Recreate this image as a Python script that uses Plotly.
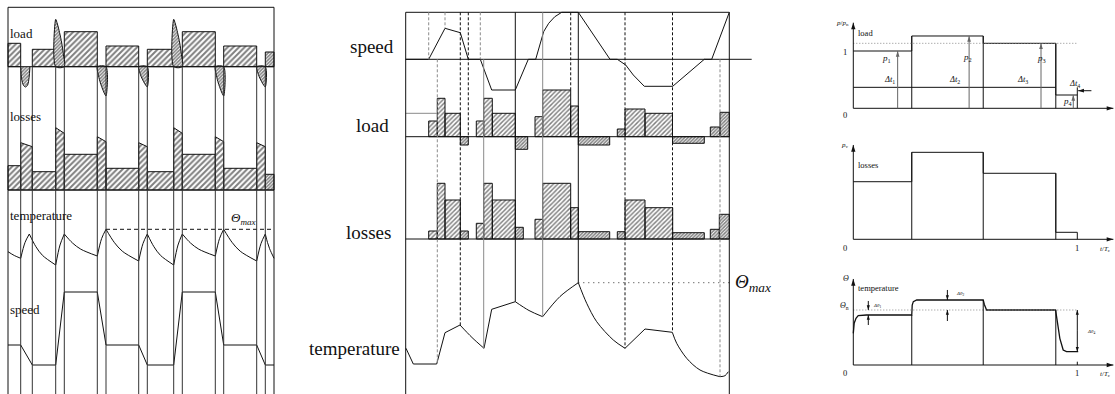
import plotly.graph_objects as go

W, H = 1115, 394
SERIF = "Liberation Serif"
INK = "#111111"
GRAY = "#8a8a8a"

# ====================== LEFT PANEL : periodic duty (arbitrary units) ======================
L_events = [0, 12.7, 24.3, 47.7, 56.3, 89.3, 98, 130.7, 139.3, 165.7, 174.3, 207.3, 215.7, 248.7, 257.3, 266]
L_load_kind = ['b', 'c', 'b', 'p', 'b', 'n', 'b', 'n', 'b', 'p', 'b', 'n', 'b', 'n', 'b']
L_load_val = [23.4, -20.3, 17.4, 47.4, 35.0, -29.3, 20.7, -20.3, 17.4, 47.4, 35.0, -29.3, 20.7, -20.3, 14.7]
L_loss_start = [24.3, 47.3, 18.3, 62.3, 35.7, 53.3, 21.7, 47.3, 18.3, 62.3, 35.7, 53.3, 21.7, 47.3, 15.7]
L_loss_end = [24.3, 43.3, 18.3, 56.7, 35.7, 48.3, 21.7, 43.3, 18.3, 56.7, 35.7, 48.3, 21.7, 43.3, 15.7]
L_speed = [35, 35, 15, 15, 88, 88, 35, 35, 15, 15, 88, 88, 35, 35, 15, 15]
L_temp_t = [0, 6.3, 12.7, None, 12.7, 17, 21.3, None, 21.3, 27.9, 34.5, 47.7, None, 47.7, 52, 56.3, None,
            56.3, 64.5, 72.8, 89.3, None, 89.3, 93.6, 98, None, 98, 106.2, 114.3, 130.7, None,
            130.7, 135, 139.3, None, 139.3, 145.9, 152.5, 165.7, None, 165.7, 170, 174.3, None,
            174.3, 182.5, 190.8, 207.3, None, 207.3, 211.5, 215.7, None, 215.7, 224, 232.2, 248.7, None,
            248.7, 253, 257.3, None, 257.3, 259.5, 261.6, 266]
L_temp_v = [28.3, 24.5, 21.7, None, 21.7, 37.5, 46, None, 46, 33.3, 24.6, 15, None, 15, 35, 46, None,
            46, 37, 30.8, 24, None, 24, 41.4, 50.7, None, 50.7, 37.7, 28.8, 19, None,
            19, 36.5, 46, None, 46, 33.3, 24.6, 15, None, 15, 35, 46, None,
            46, 37, 30.8, 24, None, 24, 41.4, 50.7, None, 50.7, 37.7, 28.8, 19, None,
            19, 36.5, 46, None, 46, 37.5, 31.3, 21.7]
L_theta_max = 50.7
L_theta_max_from = 98
# lobe outline profiles (fraction of interval / fraction of peak)
LOBE_U = [0, 0.2, 0.45, 0.7, 0.9, 1.0]
LOBE_F = [1, 0.9, 0.72, 0.5, 0.25, 0]
LOBE_CS = [0, 0.08, 0.25, 0.42, 0.6, 0.72, 0.8]
LOBE_CF = [0, 0.6, 0.93, 1, 0.9, 0.55, 0]

# ====================== MIDDLE PANEL : reversing drive ======================
M_speed_t = [0, 23, 39.3, 54.6, 62.6, 74.6, 86, 109.6, 122.6, 130, 138, 143, 149, 156, 165, 172.6,
             204.3, 211.6, 220, 227.6, 238.6, 267, 298.6, 306, 323.6]
M_speed_v = [0, 0, 31, 26.6, 0, 0, -30.7, -30.7, 0, 0, 27.7, 36, 42.5, 47, 47, 47,
             0, 0, -5.7, -15.7, -27, -27, 0, 0, 47]
M_load_t0 = [23, 31.6, 39.3, 54.6, 70.6, 78, 86.6, 109.6, 129.3, 137, 165, 172.6, 211.6, 219.3, 239.3, 266.8, 304.6, 314.3]
M_load_t1 = [31.6, 39.3, 54.6, 62.6, 78, 86.6, 109.6, 122, 137, 165, 172.6, 204, 219.3, 239.3, 266.8, 298.6, 314.3, 323.6]
M_load_v = [15.7, 38.4, 23.4, -8.3, 15.7, 38.4, 23.4, -12.6, 20, 46.7, 30.7, -8.3, 7.7, 27.7, 23.4, -6.6, 9.7, 24.4]
M_load_pre_t = [0, 31.6]
M_load_pre_v = [23.4, 23.4]
M_loss_t0 = [23, 31.6, 39.3, 54.6, 70.6, 78, 86.6, 109.6, 129.3, 137, 165, 172.6, 211.6, 219.3, 239.3, 267, 304.6, 313.6]
M_loss_t1 = [31.6, 39.3, 54.6, 62.6, 78, 86.6, 109.6, 117.6, 137, 165, 172.6, 204, 219.3, 239.3, 267, 298.6, 313.6, 323.6]
M_loss_v = [8, 55.7, 39, 8, 15.7, 55.7, 39, 11.7, 19.7, 55.7, 31.3, 7.3, 7.3, 39, 31.3, 6.3, 9.7, 24.7]
M_dense = [False, False, False, True, False, False, False, True, False, False, False, True, True, False, False, True, True, True]
M_temp_t = [0.3, 7.6, None, 7.6, 31, None, 31, 39.3, None, 39.3, 54.3, None, 54.3, 66.3, 78.3, None,
            78.3, 86, None, 86, 109.6, None, 109.6, 123.3, 137, None, 137, 154.3, 172.6, None,
            172.6, 181, 191, 207.6, 219.3, None, 219.3, 239.3, None, 239.3, 266.6, None,
            266.6, 271, 281, 294.3, 314.3, None, 314.3, 319.3, 322.6]
M_temp_v = [45.7, 30, None, 30, 30, None, 30, 61.3, None, 61.3, 69, None, 69, 56.5, 45.7, None,
            45.7, 84.7, None, 84.7, 92.3, None, 92.3, 83.5, 77.3, None, 77.3, 97.5, 111.3, None,
            111.3, 90.7, 72.3, 54, 45.7, None, 45.7, 65, None, 65, 61.7, None,
            61.7, 50.7, 35.7, 24, 17.3, None, 17.3, 18.3, 22.3]
M_theta_max = 111.3
M_theta_from = 172.6
M_end = 323.6
# construction lines: time, top/bottom (pixel rows of panel guide axis), style
M_vl_t = [23, 31.6, 39.3, 54.6, 62.6, 74.6, 78, 109.6, 137, 165, 172.6, 219.3, 266.8, 314.3]
M_vl_top = [12.3, 59.3, 12.3, 12.3, 12.3, 12.3, 59.3, 12.3, 12.3, 12.3, 12.3, 12.3, 12.3, 59.3]
M_vl_bot = [59.3, 364, 28.3, 325, 136.7, 59.3, 348.3, 301.7, 316.7, 90, 282.7, 348.3, 331.7, 376.7]
M_vl_sty = ['gd', 'gd', 'gd', 'kd', 'kd', 'gd', 'gs', 'ks', 'gs', 'kd', 'ks', 'kd', 'kd', 'gd']

# ====================== RIGHT PANEL : equivalent cycle (t/Tc) ======================
R_edges = [0, 0.261, 0.580, 0.904, 1.0]
R_load = [1.0, 1.262, 1.134, 0.232]
R_loss = [1.005, 1.518, 1.152, 0.122]
R_temp_t = [0, 0.004, 0.012, 0.022, 0.059, 0.261, 0.263, 0.268, 0.283, 0.580, 0.585, 0.595,
            0.903, 0.912, 0.922, 0.937, 0.952, 1.004]
R_temp_v = [0.576, 0.76, 0.85, 0.897, 0.909, 0.909, 1.09, 1.152, 1.182, 1.182, 1.1, 1.0,
            1.0, 0.75, 0.485, 0.273, 0.242, 0.242]
R_theta_n = 1.0
R_dt_level = 0.366
R_p_arrow_t = [0.198, 0.517, 0.838, 0.982]
R_p_labels = ["<i>p</i><sub>1</sub>", "<i>p</i><sub>2</sub>", "<i>p</i><sub>3</sub>", "<i>p</i><sub>4</sub>"]
R_dt_labels = ["<i>Δt</i><sub>1</sub>", "<i>Δt</i><sub>2</sub>", "<i>Δt</i><sub>3</sub>", "<i>Δt</i><sub>4</sub>"]

# ---------------------------------------------------------------------------------------
def dom_x(left, right):
    return [left / W, right / W]


def dom_y(top, bot):
    return [1 - bot / H, 1 - top / H]


def xr(px0, k, left, right):
    return [(left - px0) / k, (right - px0) / k]


def yr(py0, k, top, bot):
    return [(py0 - bot) / k, (py0 - top) / k]


fig = go.Figure()


def pattern(size, sol):
    return dict(shape='/', fgcolor='#000000', bgcolor='white', size=size, solidity=sol)


def add_poly(xs, ys, xa, ya, size, sol, spline=False):
    fig.add_trace(go.Scatter(x=xs, y=ys, xaxis=xa, yaxis=ya, mode='lines', fill='toself',
                             fillcolor='white', fillpattern=pattern(size, sol),
                             line=dict(color=INK, width=1, shape='spline' if spline else 'linear', smoothing=0.8),
                             hoverinfo='skip', showlegend=False))


def add_line(xs, ys, xa, ya, color=INK, width=1, dash='solid', spline=False):
    fig.add_trace(go.Scatter(x=xs, y=ys, xaxis=xa, yaxis=ya, mode='lines',
                             line=dict(color=color, width=width, dash=dash,
                                       shape='spline' if spline else 'linear', smoothing=0.9),
                             hoverinfo='skip', showlegend=False))


def arrow(x0, y0, x1, y1, xa, ya, color=INK, size=6):
    fig.add_trace(go.Scatter(x=[x0, x1], y=[y0, y1], xaxis=xa, yaxis=ya, mode='lines',
                             line=dict(color=color, width=1), hoverinfo='skip', showlegend=False))
    fig.add_trace(go.Scatter(x=[x1], y=[y1], xaxis=xa, yaxis=ya, mode='markers',
                             marker=dict(symbol='arrow', size=size, color=color,
                                         angle=(90 if x1 > x0 else -90) if y1 == y0 else (0 if y1 > y0 else 180),
                                         line=dict(width=0)),
                             cliponaxis=False, hoverinfo='skip', showlegend=False))


def blocks(t0s, t1s, v0s, v1s):
    xs, ys = [], []
    for a, b, c, d in zip(t0s, t1s, v0s, v1s):
        xs += [a, a, b, b, a, None]
        ys += [0, c, d, 0, 0, None]
    return xs, ys


HATCH = (4, 0.5)
HATCH_M = (3.2, 0.45)
DENSE = (2.4, 0.62)

# ---------------- left panel traces ----------------
Lt0, Lt1 = L_events[:-1], L_events[1:]
nb = len(L_load_kind)
idx_b = [i for i in range(nb) if L_load_kind[i] == 'b' and i != nb - 1]
xs, ys = blocks([Lt0[i] for i in idx_b], [Lt1[i] for i in idx_b],
                [L_load_val[i] for i in idx_b], [L_load_val[i] for i in idx_b])
add_poly(xs, ys, 'x', 'y2', *HATCH)
xs, ys = blocks([Lt0[-1]], [Lt1[-1]], [L_load_val[-1]], [L_load_val[-1]])
add_poly(xs, ys, 'x', 'y2', *DENSE)
# lobes
for i in range(nb):
    k = L_load_kind[i]
    a, b, h = Lt0[i], Lt1[i], L_load_val[i]
    w = b - a
    if k == 'p':
        lx = [a] + [a + u * w for u in LOBE_U] + [a]
        ly = [0] + [f * h for f in LOBE_F] + [0]
    elif k == 'n':
        lx = [b] + [b - u * w for u in LOBE_U] + [b]
        ly = [0] + [f * h for f in LOBE_F] + [0]
    elif k == 'c':
        lx = [a + s * w for s in LOBE_CS]
        ly = [f * h for f in LOBE_CF]
    else:
        continue
    add_poly(lx, ly, 'x', 'y2', *DENSE, spline=True)

# losses
xs, ys = blocks(Lt0[:-1], Lt1[:-1], L_loss_start[:-1], L_loss_end[:-1])
add_poly(xs, ys, 'x', 'y3', *HATCH)
xs, ys = blocks([Lt0[-1]], [Lt1[-1]], [L_loss_start[-1]], [L_loss_end[-1]])
add_poly(xs, ys, 'x', 'y3', *DENSE)
# temperature, speed
add_line(L_temp_t, L_temp_v, 'x', 'y4', spline=True)
add_line([L_theta_max_from, L_events[-1]], [L_theta_max, L_theta_max], 'x', 'y4', dash='4px,3px')
add_line(L_events, L_speed, 'x', 'y5')

# ---------------- middle panel traces ----------------
def dense_split(t0s, t1s, vs, flags, want):
    sel = [i for i in range(len(vs)) if flags[i] == want]
    return blocks([t0s[i] for i in sel], [t1s[i] for i in sel], [vs[i] for i in sel], [vs[i] for i in sel])


for want, (sz, so) in [(False, HATCH_M), (True, DENSE)]:
    xs, ys = dense_split(M_load_t0, M_load_t1, M_load_v, M_dense, want)
    add_poly(xs, ys, 'x2', 'y7', sz, so)
    xs, ys = dense_split(M_loss_t0, M_loss_t1, M_loss_v, M_dense, want)
    add_poly(xs, ys, 'x2', 'y8', sz, so)
add_line(M_load_pre_t, M_load_pre_v, 'x2', 'y7', color=GRAY)
add_line(M_speed_t, M_speed_v, 'x2', 'y10')
add_line(M_temp_t, M_temp_v, 'x2', 'y9', spline=True)
add_line([M_theta_from, M_end], [M_theta_max, M_theta_max], 'x2', 'y9', dash='1px,4px', color='#333')

# ---------------- right panel traces ----------------
e = R_edges
# load
sx, sy = [], []
for i in range(4):
    sx += [e[i], e[i + 1]]
    sy += [R_load[i], R_load[i]]
add_line(sx, sy, 'x3', 'y11')
vx, vy = [], []
for i in range(1, 4):
    vx += [e[i], e[i], None]
    vy += [0, max(R_load[i - 1], R_load[i]), None]
vx += [e[4], e[4]]
vy += [0, R_dt_level]
add_line(vx, vy, 'x3', 'y11')
add_line([0, e[4]], [R_load[2], R_load[2]], 'x3', 'y11', color=GRAY, dash='1px,2px')
add_line([0, e[3]], [R_dt_level, R_dt_level], 'x3', 'y11')
# losses
sx, sy = [], []
for i in range(4):
    sx += [e[i], e[i + 1]]
    sy += [R_loss[i], R_loss[i]]
add_line(sx + [e[4]], sy + [0], 'x4', 'y12')
vx, vy = [], []
for i in range(1, 4):
    vx += [e[i], e[i], None]
    vy += [0, max(R_loss[i - 1], R_loss[i]), None]
add_line(vx, vy, 'x4', 'y12')
# temperature
add_line(R_temp_t, R_temp_v, 'x5', 'y13', width=1.3)
add_line([0, 1.004], [R_theta_n, R_theta_n], 'x5', 'y13', color=GRAY, dash='1px,2px')
vx, vy = [], []
for i, lv in zip([1, 2, 3], [0.909, 1.182, 1.0]):
    vx += [e[i], e[i], None]
    vy += [0, lv, None]
vx += [1.0, 1.0]
vy += [0, 0.06]
add_line(vx, vy, 'x5', 'y13')

# right panel axes with arrowheads
for xa, ya, ytop in [('x3', 'y11', 1.494), ('x4', 'y12', 1.646), ('x5', 'y13', 1.564)]:
    arrow(0, 0, 1.161, 0, xa, ya, size=7)
    arrow(0, 0, 0, ytop, xa, ya, size=7)
for t, lv in zip(R_p_arrow_t, R_load):
    arrow(t, 0, t, lv, 'x3', 'y11', color='#666', size=6)
arrow(1.063, 0.307, 1.004, 0.307, 'x3', 'y11', size=6)
arrow(0.067, 1.164, 0.067, 1.0, 'x5', 'y13', size=5)
arrow(0.067, 0.727, 0.067, 0.909, 'x5', 'y13', size=5)
arrow(0.42, 1.364, 0.42, 1.182, 'x5', 'y13', size=5)
arrow(0.42, 0.8, 0.42, 1.0, 'x5', 'y13', size=5)
arrow(1.0, 0.62, 1.0, 1.0, 'x5', 'y13', size=5)
arrow(1.0, 0.62, 1.0, 0.242, 'x5', 'y13', size=5)

# ---------------- layout ----------------
L_dom = dom_x(5, 277)
M_dom = dom_x(402.5, 754)
R_xdom = dom_x(838, 1115)
layout = dict(
    width=W, height=H, margin=dict(l=0, r=0, t=0, b=0),
    paper_bgcolor='white', plot_bgcolor='white', showlegend=False,
    xaxis=dict(domain=L_dom, range=xr(8, 1, 5, 277), visible=False, anchor='y'),
    yaxis=dict(domain=dom_y(4, 394), range=[394, 4], visible=False, anchor='x'),
    xaxis2=dict(domain=M_dom, range=xr(405.7, 1, 402.5, 754), visible=False, anchor='y6'),
    yaxis6=dict(domain=dom_y(9, 394), range=[394, 9], visible=False, anchor='x2'),
    xaxis3=dict(domain=R_xdom, range=xr(853.3, 224, 838, 1115), visible=False, anchor='y11'),
    yaxis11=dict(domain=dom_y(12, 122), range=yr(108.3, 57.3, 12, 122), visible=False, anchor='x3'),
    xaxis4=dict(domain=R_xdom, range=xr(853.3, 224, 838, 1115), visible=False, anchor='y12'),
    yaxis12=dict(domain=dom_y(136, 252), range=yr(239.3, 57.3, 136, 252), visible=False, anchor='x4'),
    xaxis5=dict(domain=R_xdom, range=xr(853.3, 224, 838, 1115), visible=False, anchor='y13'),
    yaxis13=dict(domain=dom_y(268, 384), range=yr(365, 55, 268, 384), visible=False, anchor='x5'),
)
for name, py0 in [('yaxis2', 66.7), ('yaxis3', 190), ('yaxis4', 280), ('yaxis5', 380)]:
    layout[name] = dict(overlaying='y', anchor='x', range=yr(py0, 1, 4, 394), visible=False)
for name, py0 in [('yaxis7', 136.7), ('yaxis8', 239), ('yaxis9', 394), ('yaxis10', 59.3)]:
    layout[name] = dict(overlaying='y6', anchor='x2', range=yr(py0, 1, 9, 394), visible=False)
fig.update_layout(**layout)

shapes = []


def seg(xref, yref, x0, y0, x1, y1, color=INK, dash='solid', width=1):
    shapes.append(dict(type='line', xref=xref, yref=yref, x0=x0, y0=y0, x1=x1, y1=y1,
                       line=dict(color=color, width=width, dash=dash), layer='above'))


# left frame and construction lines
Lend = L_events[-1]
seg('x', 'y', 0, 7.3, Lend, 7.3)
seg('x', 'y', 0, 7.3, 0, 394)
seg('x', 'y', Lend, 7.3, Lend, 394)
seg('x', 'y2', 0, 0, Lend, 0)
seg('x', 'y3', 0, 0, Lend, 0)
for t in L_events[1:-1]:
    seg('x', 'y', t, 66.7, t, 394, color='#333')
# middle frame and construction lines
seg('x2', 'y6', 0, 12.3, M_end, 12.3)
seg('x2', 'y6', 0, 12.3, 0, 394)
seg('x2', 'y6', M_end, 12.3, M_end, 394)
seg('x2', 'y10', 0, 0, 346, 0)
seg('x2', 'y7', 0, 0, M_end, 0)
seg('x2', 'y8', 0, 0, M_end, 0)
for t, a, b, s in zip(M_vl_t, M_vl_top, M_vl_bot, M_vl_sty):
    col = GRAY if s[0] == 'g' else INK
    dash = '3px,2px' if s[1] == 'd' else 'solid'
    seg('x2', 'y6', t, a, t, b, color=col, dash=dash)
fig.update_layout(shapes=shapes)

ann = []


def txt(x, y, s, xref, yref, size, xanchor='left', yanchor='middle', color=INK):
    ann.append(dict(x=x, y=y, text=s, xref=xref, yref=yref, showarrow=False, xanchor=xanchor,
                    yanchor=yanchor, font=dict(family=SERIF, size=size, color=color)))


# left labels
txt(0, 33.5, 'load', 'x', 'y', 13)
txt(0, 116, 'losses', 'x', 'y', 13)
txt(0, 215, 'temperature', 'x', 'y', 13)
txt(0, 309, 'speed', 'x', 'y', 13)
txt(221, 218, '<i>Θ</i><sub><i>max</i></sub>', 'x', 'y', 13)
# middle labels (left of the frame, placed on the page)
for s, px, py in [('speed', 396, 47), ('load', 391, 125), ('losses', 393, 232), ('temperature', 402, 348)]:
    txt(px / W, 1 - py / H, s, 'paper', 'paper', 19, xanchor='right')
txt(327, 283, '<i>Θ</i><sub><i>max</i></sub>', 'x2', 'y6', 19)

# load subplot text
txt(-0.012, 1.494, '<i>p</i>/<i>p</i><sub>n</sub>', 'x3', 'y11', 7, xanchor='right')
txt(0.012, 1.32, 'load', 'x3', 'y11', 8.5)
txt(-0.02, 0.99, '1', 'x3', 'y11', 8.5, xanchor='right')
txt(-0.02, -0.12, '0', 'x3', 'y11', 8.5, xanchor='right')
txt(1.16, -0.25, '<i>t</i>/<i>T</i><sub>c</sub>', 'x3', 'y11', 7, xanchor='right')
for x, y, s in zip([0.119, 0.479, 0.811, 0.926], [0.873, 0.89, 0.873, 0.115], R_p_labels):
    txt(x, y, s, 'x3', 'y11', 9)
for x, y, s in zip([0.127, 0.417, 0.722, 0.953], [0.494, 0.494, 0.494, 0.43], R_dt_labels):
    txt(x, y, s, 'x3', 'y11', 8.5)
# losses subplot
txt(-0.012, 1.646, '<i>p</i><sub>v</sub>', 'x4', 'y12', 7, xanchor='right')
txt(0.012, 1.30, 'losses', 'x4', 'y12', 8.5)
txt(-0.02, -0.16, '0', 'x4', 'y12', 8.5, xanchor='right')
txt(1.0, -0.16, '1', 'x4', 'y12', 8.5, xanchor='center')
txt(1.16, -0.17, '<i>t</i>/<i>T</i><sub>c</sub>', 'x4', 'y12', 7, xanchor='right')
# temperature subplot
txt(-0.012, 1.564, '<i>Θ</i>', 'x5', 'y13', 8, xanchor='right')
txt(0.012, 1.40, 'temperature', 'x5', 'y13', 8.5)
txt(-0.012, 1.08, '<i>Θ</i><sub>n</sub>', 'x5', 'y13', 8, xanchor='right')
txt(-0.02, -0.15, '0', 'x5', 'y13', 8.5, xanchor='right')
txt(1.0, -0.15, '1', 'x5', 'y13', 8.5, xanchor='center')
txt(1.16, -0.17, '<i>t</i>/<i>T</i><sub>c</sub>', 'x5', 'y13', 7, xanchor='right')
txt(0.078, 1.08, '<i>Δθ</i><sub>1</sub>', 'x5', 'y13', 5)
txt(0.45, 1.29, '<i>Δθ</i><sub>2</sub>', 'x5', 'y13', 5)
txt(1.035, 0.6, '<i>Δθ</i><sub>4</sub>', 'x5', 'y13', 5)
fig.update_layout(annotations=ann)

fig.write_html("out.html")
